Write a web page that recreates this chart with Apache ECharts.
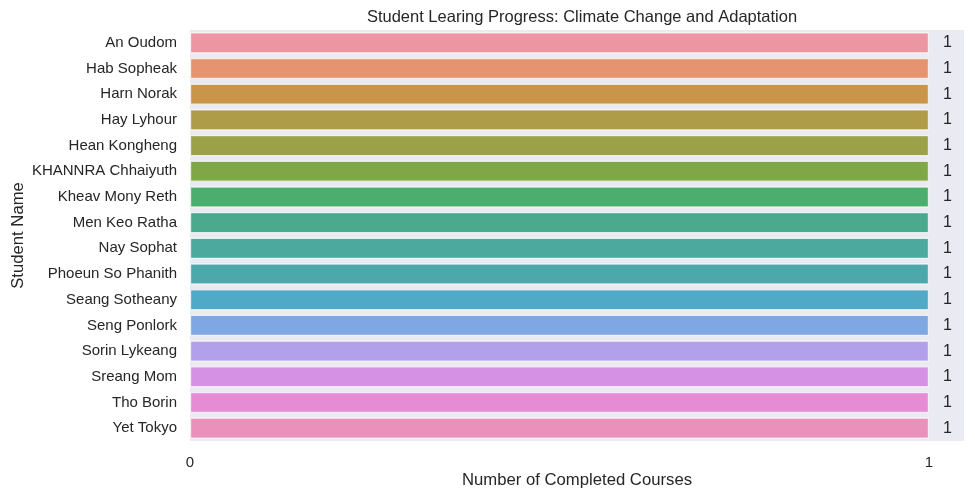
<!DOCTYPE html>
<html><head><meta charset="utf-8">
<script src="https://cdn.jsdelivr.net/npm/echarts@6/dist/echarts.min.js"></script>
<style>html,body{margin:0;padding:0;background:#fff}#c{width:975px;height:498px}</style>
</head><body><div id="c"></div>
<script>
const students = ["An Oudom","Hab Sopheak","Harn Norak","Hay Lyhour","Hean Kongheng","KHANNRA Chhaiyuth","Kheav Mony Reth","Men Keo Ratha","Nay Sophat","Phoeun So Phanith","Seang Sotheany","Seng Ponlork","Sorin Lykeang","Sreang Mom","Tho Borin","Yet Tokyo"];
const completed = [1,1,1,1,1,1,1,1,1,1,1,1,1,1,1,1];
const xTicks = [0,1];
const colors = ["#EB96A1","#E6946F","#C9954A","#AE9C48","#9AA146","#7FA746","#4CAE6E","#4BAA8D","#4BA99E","#4DA8AC","#51A9C8","#7EA7E4","#B3A0EA","#D592E4","#E68CD5","#E991BA"];
const font = "Liberation Sans, Arial, sans-serif";
const chart = echarts.init(document.getElementById('c'), null, {renderer:'canvas'});
chart.setOption({
  animation:false,
  backgroundColor:'#fff',
  title:{text:'Student Learing Progress: Climate Change and Adaptation',left:577,top:4,textAlign:'center',
    textStyle:{fontFamily:font,fontSize:16.5,fontWeight:'normal',color:'#262626'}},
  grid:{left:190,right:11,top:30,bottom:57,show:true,backgroundColor:'#EAEAF2',borderWidth:0,outerBoundsMode:'none',containLabel:false},
  xAxis:{type:'value',min:0,max:1.0474,
    name:'Number of Completed Courses',nameLocation:'middle',nameGap:31,nameMoveOverlap:false,
    nameTextStyle:{fontFamily:font,fontSize:16.7,color:'#262626'},
    axisLine:{show:false},axisTick:{show:false},splitLine:{show:false},
    axisLabel:{customValues:xTicks,fontFamily:font,fontSize:15,color:'#262626',margin:14}},
  yAxis:{type:'category',data:students,inverse:true,
    name:'Student Name',nameLocation:'middle',nameGap:163,nameRotate:90,nameMoveOverlap:false,
    nameTextStyle:{fontFamily:font,fontSize:16.7,color:'#262626'},
    axisLine:{show:false},axisTick:{show:false},splitLine:{show:false},
    axisLabel:{fontFamily:font,fontSize:15,color:'#262626',margin:13}},
  series:[{type:'bar',barCategoryGap:'18%',
    data:completed.map((v,i)=>({value:v,itemStyle:{color:colors[i]}})),
    itemStyle:{borderColor:'rgba(255,255,255,0.7)',borderWidth:1.2},
    label:{show:true,position:'right',distance:14,fontFamily:font,fontSize:16,color:'#262626'}}]
});
</script></body></html>
